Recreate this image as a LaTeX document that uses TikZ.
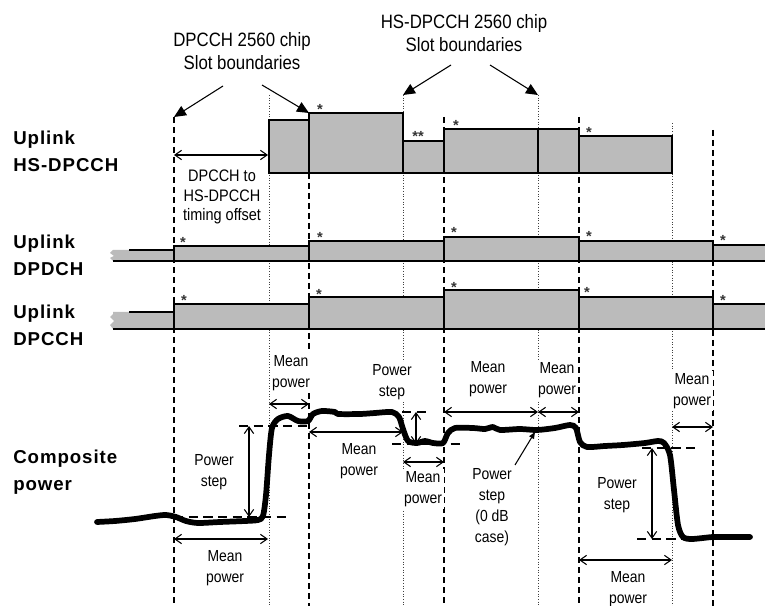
\documentclass[tikz,border=0pt]{standalone}
\usepackage{fontspec}
\setmainfont{Liberation Sans}
\newfontfamily\condfont[FakeStretch=0.87]{Liberation Sans}
\newfontfamily\boldlbl[LetterSpace=5]{Liberation Sans}
\usetikzlibrary{arrows.meta}
\definecolor{barfill}{HTML}{BBBBBB}
\begin{document}
\begin{tikzpicture}[x=0.75pt,y=-0.75pt,
  barbox/.style={fill=barfill,draw=black,line width=1.1pt},
  slotline/.style={draw=black,line width=0.9pt,dash pattern=on 4.5pt off 3pt},
  hsslot/.style={draw=black!75,line width=0.6pt,dash pattern=on 0.8pt off 1.2pt},
  lvl/.style={draw=black,line width=0.8pt,dash pattern=on 7pt off 4pt},
  wave/.style={draw=black,line width=4.3pt,line cap=round,line join=round},
  dbl/.style={{Straight Barb[length=5pt,width=7pt]}-{Straight Barb[length=5pt,width=7pt]},line width=0.8pt},
  bigarr/.style={-{Triangle[length=9pt,width=8pt]},line width=0.8pt},
  smallarr/.style={-{Triangle[length=5pt,width=4pt]},line width=0.8pt},
  hd/.style={font=\condfont\fontsize{14.5}{17}\selectfont,align=center,inner sep=0pt},
  lbl/.style={font=\boldlbl\fontsize{14}{20}\selectfont\bfseries,align=left,anchor=west,inner sep=0pt},
  sm/.style={font=\condfont\fontsize{12}{15.8}\selectfont,align=center,fill=white,inner sep=1.5pt},
  ast/.style={font=\fontsize{11}{11}\selectfont\bfseries,text=black!80,inner sep=0pt}
]
\useasboundingbox (0,0) rectangle (765,606);

% slot boundary lines
\foreach \x/\y in {174/117,309/113,444/117,579/117,713/130}
  \draw[slotline] (\x,\y) -- (\x,606);
\foreach \x/\y in {269/95,403/95,538/95,672/123}
  \draw[hsslot] (\x,\y) -- (\x,606);

% headings
\node[hd] (hdA) at (242,51) {DPCCH 2560 chip\\Slot boundaries};
\node[hd] (hdB) at (464,33) {HS-DPCCH 2560 chip\\Slot boundaries};
\coordinate (aA1s) at (223,86);  \coordinate (aA1e) at (174,117);
\coordinate (aA2s) at (262,85);  \coordinate (aA2e) at (309,113);
\coordinate (aB1s) at (451,65);  \coordinate (aB1e) at (403,95);
\coordinate (aB2s) at (490,65);  \coordinate (aB2e) at (538,95);
\draw[bigarr] (aA1s) -- (aA1e);
\draw[bigarr] (aA2s) -- (aA2e);
\draw[bigarr] (aB1s) -- (aB1e);
\draw[bigarr] (aB2s) -- (aB2e);

% row labels
\node[lbl] (lHS) at (13,151) {Uplink\\HS-DPCCH};
\node[lbl] (lDPD) at (13,255) {Uplink\\DPDCH};
\node[lbl] (lDPC) at (13,325) {Uplink\\DPCCH};
\node[lbl] (lComp) at (13,472) {Composite\\power};

% HS-DPCCH bars
\draw[barbox] (269,173) rectangle (309,120);
\draw[barbox] (309,173) rectangle (403,113);
\draw[barbox] (403,173) rectangle (444,141);
\draw[barbox] (444,173) rectangle (538,129);
\draw[barbox] (538,173) rectangle (579,129);
\draw[barbox] (579,173) rectangle (672,136);
\node[ast] (s1) at (320,109) {*};
\node[ast] (s2) at (418,136) {**};
\node[ast] (s3) at (456,125) {*};
\node[ast] (s4) at (589,132) {*};

% timing offset
\coordinate (to1) at (174,155); \coordinate (to2) at (268,155);
\draw[dbl] (to1) -- (to2);
\node[sm,font=\condfont\fontsize{12.5}{14.8}\selectfont,inner sep=0.5pt] (toT) at (222,197) {DPCCH to\\HS-DPCCH\\timing offset};

% DPDCH
\fill[barfill] (113,250) -- (174,250) -- (174,261) -- (113,261) -- (110,258) -- (114,256) -- (110,253) -- cycle;
\draw[line width=1.1pt] (129,250) -- (174,250);
\draw[line width=1.1pt] (113,261) -- (174,261);
\draw[barbox] (174,261) rectangle (309,246);
\draw[barbox] (309,261) rectangle (444,241);
\draw[barbox] (444,261) rectangle (579,237);
\draw[barbox] (579,261) rectangle (713,241);
\fill[barfill] (713,261) rectangle (765,245);
\draw[line width=1.1pt] (765,245) -- (713,245) -- (713,261) -- (765,261);
\node[ast] (d1) at (183,242) {*};
\node[ast] (d2) at (320,237) {*};
\node[ast] (d3) at (454,232) {*};
\node[ast] (d4) at (589,236) {*};
\node[ast] (d5) at (723,240) {*};

% DPCCH
\fill[barfill] (113,312) -- (174,312) -- (174,329) -- (113,329) -- (110,325) -- (114,321) -- (110,317) -- (113,314) -- cycle;
\draw[line width=1.1pt] (129,312) -- (174,312);
\draw[line width=1.1pt] (113,329) -- (174,329);
\draw[barbox] (174,329) rectangle (309,304);
\draw[barbox] (309,329) rectangle (444,297);
\draw[barbox] (444,329) rectangle (579,290);
\draw[barbox] (579,329) rectangle (713,297);
\fill[barfill] (713,329) rectangle (765,304);
\draw[line width=1.1pt] (765,304) -- (713,304) -- (713,329) -- (765,329);
\node[ast] (c1) at (184,300) {*};
\node[ast] (c2) at (319,294) {*};
\node[ast] (c3) at (454,287) {*};
\node[ast] (c4) at (587,292) {*};
\node[ast] (c5) at (723,300) {*};

% composite power: level lines
\draw[lvl] (239,426) -- (310,426);
\draw[lvl] (174,517) -- (288,517);
\draw[lvl] (402,412) -- (427,412);
\draw[lvl] (392,444) -- (460,444);
\draw[lvl] (642,448) -- (695,448);
\draw[lvl] (637,539) -- (683,539);

% waveform
\draw[wave] plot[smooth,tension=0.45] coordinates {
 (97,522) (115,521) (135,519) (155,516) (166,515) (176,517) (186,521) (198,523)
 (220,522) (245,521) (258,520) (263,516) (266,495) (269,455) (272,428) (278,419)
 (288,416) (298,421) (308,421) (313,414) (322,411) (335,412) (338,414) (360,414)
 (375,413) (392,412) (399,417) (403,429) (408,441) (417,443) (425,441) (433,443)
 (443,443) (448,433) (455,428) (473,428) (485,429) (493,427) (500,430) (520,429)
 (537,430) (555,428) (570,425) (576,428) (580,442) (587,447) (605,446) (623,445)
 (645,443) (658,441) (664,443) (670,455) (674,490) (678,525) (683,537) (692,539)
 (713,537) (730,537) (750,537)};

% power step arrows
\coordinate (ps1a) at (249,426); \coordinate (ps1b) at (249,517);
\coordinate (ps2a) at (416,412); \coordinate (ps2b) at (416,444);
\coordinate (ps3a) at (652,448); \coordinate (ps3b) at (652,539);
\draw[dbl] (ps1a) -- (ps1b);
\draw[dbl] (ps2a) -- (ps2b);
\draw[dbl] (ps3a) -- (ps3b);

% mean power arrows
\coordinate (m1a) at (174,539); \coordinate (m1b) at (268,539);
\coordinate (m2a) at (269,404); \coordinate (m2b) at (309,404);
\coordinate (m3a) at (309,432); \coordinate (m3b) at (403,432);
\coordinate (m4a) at (403,462); \coordinate (m4b) at (444,462);
\coordinate (m5a) at (444,412); \coordinate (m5b) at (538,412);
\coordinate (m6a) at (538,412); \coordinate (m6b) at (579,412);
\coordinate (m7a) at (579,560); \coordinate (m7b) at (672,560);
\coordinate (m8a) at (672,427); \coordinate (m8b) at (713,427);
\foreach \a in {1,...,8} \draw[dbl] (m\a a) -- (m\a b);

% texts
\node[sm] (t1) at (214,472) {Power\\step};
\node[sm] (t2) at (225,568) {Mean\\power};
\node[sm] (t3) at (291,373) {Mean\\power};
\node[sm] (t4) at (359,461) {Mean\\power};
\node[sm] (t5) at (392,382) {Power\\step};
\node[sm] (t6) at (423,489) {Mean\\power};
\node[sm] (t7) at (488,379) {Mean\\power};
\node[sm] (t8) at (557,380) {Mean\\power};
\node[sm] (t9) at (692,391) {Mean\\power};
\node[sm] (t10) at (617,495) {Power\\step};
\node[sm] (t11) at (628,589) {Mean\\power};
\node[sm] (t12) at (492,507) {Power\\step\\(0 dB\\case)};
\coordinate (zs) at (515,465); \coordinate (ze) at (535,432);
\draw[smallarr] (zs) -- (ze);
\end{tikzpicture}
\end{document}
